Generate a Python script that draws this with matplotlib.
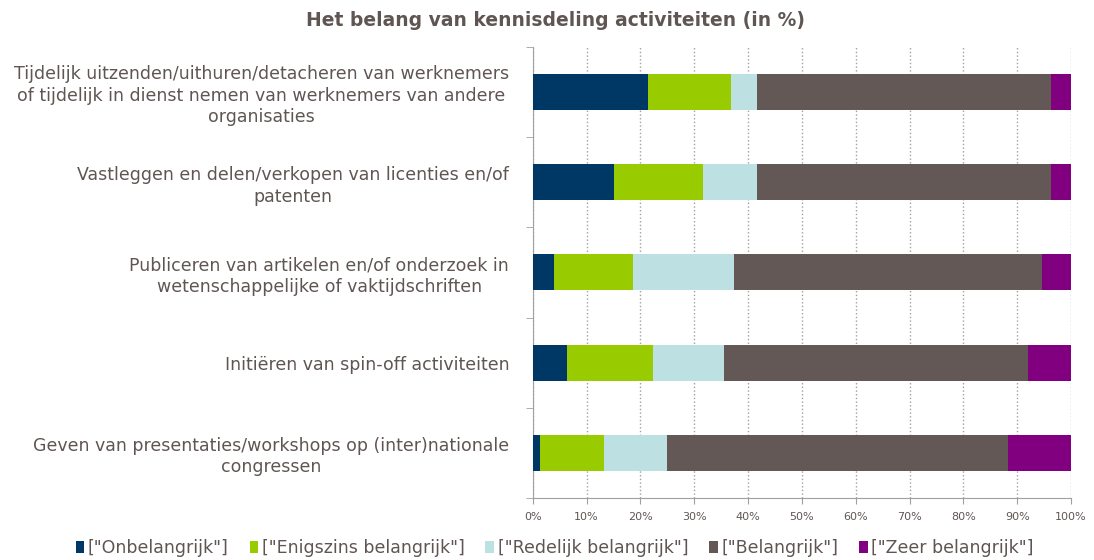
import matplotlib
matplotlib.use("Agg")
import matplotlib.pyplot as plt
from matplotlib.patches import Patch
import numpy as np

categories = [
    "Tijdelijk uitzenden/uithuren/detacheren van werknemers\nof tijdelijk in dienst nemen van werknemers van andere\norganisaties",
    "Vastleggen en delen/verkopen van licenties en/of\npatenten",
    "Publiceren van artikelen en/of onderzoek in\nwetenschappelijke of vaktijdschriften",
    "Initiëren van spin-off activiteiten",
    "Geven van presentaties/workshops op (inter)nationale\ncongressen",
]
series_names = ['["Onbelangrijk"]', '["Enigszins belangrijk"]', '["Redelijk belangrijk"]',
                '["Belangrijk"]', '["Zeer belangrijk"]']
onbelangrijk = [21.4, 15.1, 3.9, 6.4, 1.4]
enigszins = [15.4, 16.6, 14.8, 16.0, 11.8]
redelijk = [4.9, 10.0, 18.6, 13.1, 11.8]
belangrijk = [54.5, 54.5, 57.4, 56.5, 63.2]
zeer = [3.8, 3.8, 5.3, 8.0, 11.8]
colors = ["#003865", "#99CC00", "#BDE0E3", "#635856", "#800080"]
text_color = "#5F5654"

fig = plt.figure(figsize=(10.94, 5.6), dpi=100)
ax = fig.add_axes([0.487, 0.111, 0.492, 0.805])

series = [onbelangrijk, enigszins, redelijk, belangrijk, zeer]
y = np.arange(len(categories))
left = np.zeros(len(categories))
for vals, col, name in zip(series, colors, series_names):
    vals = np.array(vals)
    ax.barh(y, vals, left=left, height=0.4, color=col, label=name, zorder=3)
    left += vals

ax.set_xlim(0, 100)
ax.set_ylim(len(categories) - 0.5, -0.5)
ax.set_yticks(y)
ax.set_yticklabels(categories, fontsize=12.5, color=text_color, linespacing=1.25,
                   multialignment="center")
ax.tick_params(axis="y", length=0, pad=17)
ax.set_yticks(np.arange(-0.5, len(categories), 1), minor=True)
ax.tick_params(axis="y", which="minor", length=5, color="#A0A0A0")
ax.set_xticks(np.arange(0, 101, 10))
ax.set_xticklabels([f"{v}%" for v in range(0, 101, 10)], fontsize=8, color=text_color)
ax.tick_params(axis="x", length=4, color="#A0A0A0", pad=6)
ax.grid(axis="x", color="#A0A0A0", linestyle=":", linewidth=1, zorder=0)
for s in ["top", "right"]:
    ax.spines[s].set_visible(False)
for s in ["left", "bottom"]:
    ax.spines[s].set_color("#A0A0A0")

fig.text(0.508, 0.963, "Het belang van kennisdeling activiteiten (in %)", ha="center", va="center",
         fontsize=13.5, fontweight="bold", color=text_color)

handles = [Patch(facecolor=c) for c in colors]
leg = fig.legend(handles, series_names, loc="center", bbox_to_anchor=(0.507, 0.022), ncol=5,
                 frameon=False, fontsize=12.5, handlelength=0.5, handleheight=0.7,
                 handletextpad=0.2, columnspacing=1.2)
for t in leg.get_texts():
    t.set_color(text_color)

fig.savefig("out.png", dpi=100)
